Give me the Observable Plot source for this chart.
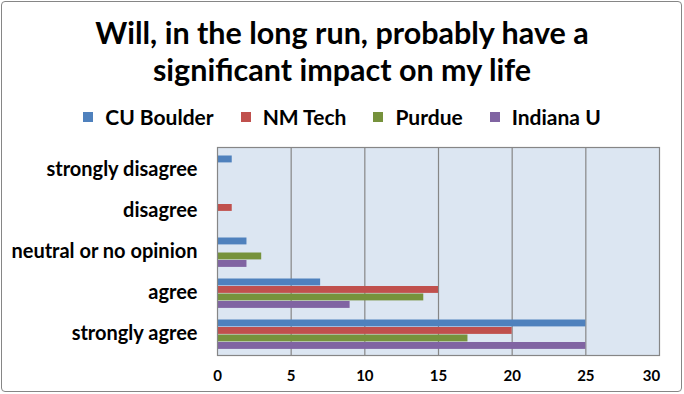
<!DOCTYPE html>
<html><head><meta charset="utf-8">
<script src="https://cdn.jsdelivr.net/npm/d3@7"></script>
<script src="https://cdn.jsdelivr.net/npm/@observablehq/plot@0.6"></script>
<style>
body{margin:0;background:#fff;}
#wrap{position:relative;width:684px;height:394px;font-family:Lato,"Open Sans",sans-serif;color:#000;overflow:hidden;}
#border{position:absolute;left:1px;top:1px;width:681px;height:391px;border:1px solid #868686;border-radius:4px;box-sizing:border-box;pointer-events:none;}
#title{position:absolute;left:0;top:14px;width:684px;text-align:center;font-weight:bold;font-size:30.5px;line-height:37px;}
#legend{position:absolute;left:0;top:104px;width:684px;display:flex;justify-content:center;gap:27px;font-weight:bold;font-size:21px;line-height:26px;}
#legend .item{display:flex;align-items:center;}
#legend .sw{width:10px;height:10px;margin-right:12px;}
#chart{position:absolute;left:0;top:0;}
</style>
</head><body>
<div id="wrap">
<div id="chart"></div>
<div id="title">Will, in the long run, probably have a<br>significant impact on my life</div>
<div id="legend"></div>
<div id="border"></div>
</div>
<script>
const categories = ["strongly disagree", "disagree", "neutral or no opinion", "agree", "strongly agree"];
const series = ["CU Boulder", "NM Tech", "Purdue", "Indiana U"];
const colors = ["#4f81bd", "#c0504d", "#76923c", "#8064a2"];
const cuBoulder = [1, 0, 2, 7, 25];
const nmTech = [0, 1, 0, 15, 20];
const purdue = [0, 0, 3, 14, 17];
const indianaU = [0, 0, 2, 9, 25];
const xTicks = [0, 5, 10, 15, 20, 25, 30];

const seriesValues = [cuBoulder, nmTech, purdue, indianaU];
const rows = [];
series.forEach((s, i) => categories.forEach((c, j) => rows.push({series: s, category: c, value: seriesValues[i][j]})));

const W = 684, H = 394, mT = 147, mB = 39, mL = 217, mR = 25;
const band = (H - mT - mB) / categories.length;
const groupTop = 6.5, barH = 7.5;
const tickFont = {tickSize: 0, tickPadding: 15, fontSize: 15, fontWeight: "bold", label: null, tickFormat: d => String(d)};

const chart = Plot.plot({
  width: W, height: H,
  marginTop: mT, marginBottom: mB, marginLeft: mL, marginRight: mR,
  style: {fontFamily: "Lato, 'Open Sans', sans-serif", color: "#000", background: "transparent"},
  x: {domain: [0, 30], label: null},
  y: {domain: categories, padding: 0, label: null},
  marks: [
    Plot.frame({fill: "#dce6f2"}),
    Plot.ruleX(xTicks.slice(1, -1), {stroke: "#868686", strokeWidth: 1.2}),
    ...series.map((s, i) => Plot.barX(rows.filter(d => d.series === s && d.value > 0), {
      x: "value", y: "category", fill: colors[i],
      insetTop: groupTop + barH * i, insetBottom: band - groupTop - barH * (i + 1)
    })),
    Plot.frame({stroke: "#868686", strokeWidth: 1.2}),
    Plot.axisX({...tickFont, ticks: xTicks.slice(0, -1)}),
    Plot.axisX({...tickFont, ticks: xTicks.slice(-1), dx: -8}),
    Plot.axisY({tickSize: 0, tickPadding: 20, fontSize: 20, fontWeight: "bold", label: null})
  ]
});
document.getElementById("chart").appendChild(chart);

const legend = document.getElementById("legend");
series.forEach((s, i) => {
  const it = document.createElement("div");
  it.className = "item";
  it.innerHTML = `<span class="sw" style="background:${colors[i]}"></span><span>${s}</span>`;
  legend.appendChild(it);
});
</script>
</body></html>
